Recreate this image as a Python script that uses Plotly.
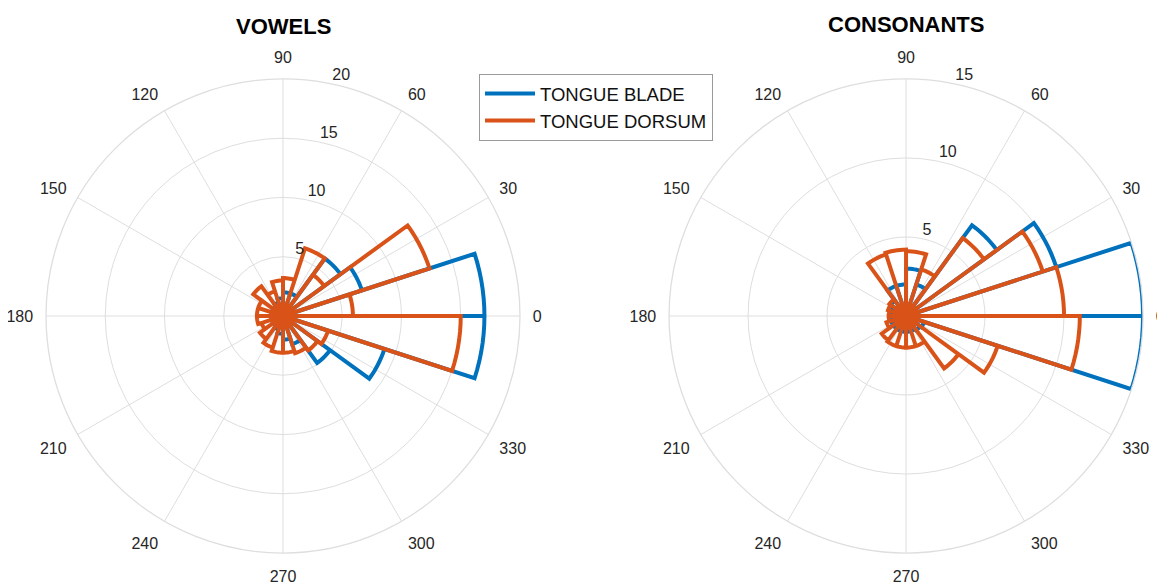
import numpy as np
import plotly.graph_objects as go

BLUE = "#0072BD"
ORANGE = "#D95319"
GRID = "#DEDEDE"
FONT = "Liberation Sans, Arial, Helvetica, sans-serif"

# 20 bins of 18 degrees, edges starting at 0
bin_width = 18
bin_starts = list(range(0, 360, bin_width))

vowels_blade = [17, 7, 6, 2, 2, 1.5, 1.2, 1.0, 1.0, 1.0,
                1.0, 1.0, 1.0, 1.2, 1.5, 2, 2.5, 4.9, 9, 17]
vowels_dorsum = [5.9, 13, 4.3, 6, 3.2, 3, 2.2, 3.1, 2.2, 2.2,
                 2.2, 1.9, 2.4, 2.8, 3.1, 3.1, 3.3, 3.6, 4.0, 15]

consonants_blade = [15, 10, 7.1, 2.1, 3, 2, 2, 1.2, 1.0, 1.0,
                    1.0, 1.0, 1.0, 1.0, 1.0, 1.0, 1.0, 1.1, 1.2, 15]
consonants_dorsum = [10, 9.1, 6.1, 3.1, 4.1, 4.2, 4.1, 1.3, 1.2, 1.1,
                     1.1, 1.3, 1.9, 2.0, 2.0, 2.0, 2.0, 4.1, 6.1, 11]

series_names = ["TONGUE BLADE", "TONGUE DORSUM"]
angle_ticks = list(range(0, 360, 30))
vowels_rticks = [5, 10, 15, 20]
consonants_rticks = [5, 10, 15]


def stairs_path(values, starts, width, arc_pts=8):
    # each bin drawn as a closed wedge from the origin (matlab 'stairs' style)
    r, theta = [], []
    for v, a0 in zip(values, starts):
        arc = np.linspace(a0, a0 + width, arc_pts)
        r += [0] + [v] * arc_pts + [0]
        theta += [a0] + list(arc) + [a0 + width]
    return r, theta


fig = go.Figure()

panels = [
    ("polar", vowels_blade, vowels_dorsum, vowels_rticks, True),
    ("polar2", consonants_blade, consonants_dorsum, consonants_rticks, False),
]
for subplot, blade, dorsum, rticks, show in panels:
    for name, vals, color in zip(series_names, [blade, dorsum], [BLUE, ORANGE]):
        r, theta = stairs_path(vals, bin_starts, bin_width)
        fig.add_trace(go.Scatterpolar(
            r=r, theta=theta, mode="lines", name=name, subplot=subplot,
            line=dict(color=color, width=4),
            showlegend=show, hoverinfo="skip",
        ))
    # matlab-style r tick labels, sitting just outside each ring near 78 deg
    fig.add_trace(go.Scatterpolar(
        r=rticks, theta=[78] * len(rticks),
        text=[str(t) for t in rticks], mode="text", textposition="top right",
        subplot=subplot,
        textfont=dict(size=16, color="#262626", family=FONT),
        cliponaxis=False, showlegend=False, hoverinfo="skip",
    ))


def polar_layout(domain_x, rticks):
    # page body has an 8px margin, domains are shifted to compensate
    return dict(
        domain=dict(x=domain_x, y=[0.0636, 0.8780]),
        bgcolor="white",
        angularaxis=dict(
            rotation=0, direction="counterclockwise",
            tickmode="array", tickvals=angle_ticks,
            ticktext=[str(a) for a in angle_ticks],
            ticks="outside", ticklen=9, tickcolor="rgba(0,0,0,0)",
            showline=True, linecolor=GRID, linewidth=1.3,
            gridcolor=GRID, gridwidth=1.3,
            tickfont=dict(size=16, color="#262626", family=FONT),
        ),
        radialaxis=dict(
            range=[0, rticks[-1]], tickmode="array", tickvals=rticks,
            showticklabels=False, angle=80, showline=False, ticks="",
            gridcolor=GRID, gridwidth=1.3,
        ),
    )


fig.update_layout(
    width=1165, height=582,
    margin=dict(l=0, r=0, t=0, b=0),
    paper_bgcolor="white",
    font=dict(family=FONT, color="#262626"),
    polar=polar_layout([0.0326, 0.4395], vowels_rticks),
    polar2=polar_layout([0.5674, 0.9743], consonants_rticks),
    legend=dict(
        x=0.4043, y=0.8866, xanchor="left", yanchor="top",
        bgcolor="white", bordercolor="#9A9A9A", borderwidth=1,
        font=dict(size=18.5, color="#111111", family=FONT),
        itemwidth=50, tracegroupgap=0,
    ),
    annotations=[
        dict(text="<b>VOWELS</b>", x=0.2361, y=0.9674, xref="paper", yref="paper",
             xanchor="center", yanchor="middle", showarrow=False,
             font=dict(size=22, color="black", family=FONT)),
        dict(text="<b>CONSONANTS</b>", x=0.7708, y=0.9708, xref="paper", yref="paper",
             xanchor="center", yanchor="middle", showarrow=False,
             font=dict(size=22, color="black", family=FONT)),
    ],
)

fig.write_html("out.html")
